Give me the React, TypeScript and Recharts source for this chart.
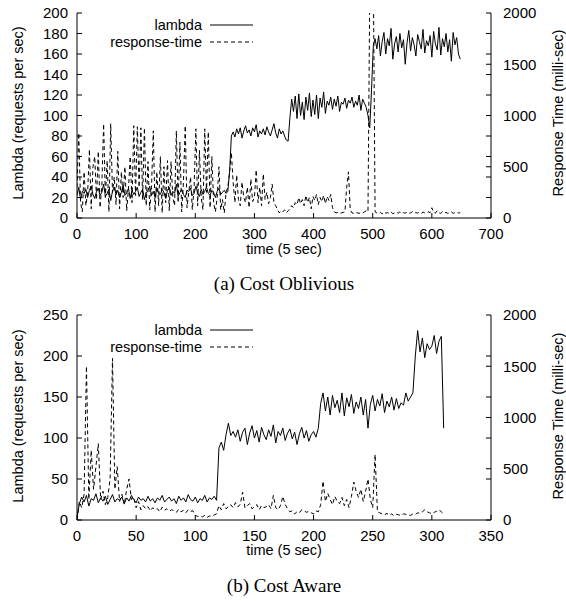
import React from "react";
import { LineChart, Line, XAxis, YAxis } from "recharts";

// sampling step (time units of 5 sec) for each panel
const TOP_STEP = 3;
const BOTTOM_STEP = 2;

// (a) Cost Oblivious -- lambda (req/sec), t = 0..648
const TOP_LAMBDA = [
  22, 30, 18, 26, 24, 28, 20, 27, 31, 23,
  19, 26, 29, 22, 25, 33, 21, 24, 28, 17,
  26, 30, 23, 27, 20, 25, 32, 22, 24, 29,
  19, 27, 23, 26, 30, 21, 25, 28, 18, 24,
  27, 31, 22, 26, 20, 29, 24, 23, 28, 25,
  19, 27, 30, 22, 26, 24, 33, 21, 25, 28,
  23, 20, 27, 26, 29, 22, 24, 31, 25, 21,
  28, 23, 26, 30, 24, 22, 27, 25, 20, 26,
  29, 23, 25, 27, 24,
  26, 45, 80, 84, 79, 87, 82, 88, 78, 85,
  90, 83, 86, 80, 88, 84, 91, 79, 85, 82,
  87, 81, 89, 84, 80, 86, 92, 83, 78, 87,
  82, 85, 80, 76, 75, 98, 116, 104, 119, 97,
  121, 100, 113, 96, 118, 105, 122, 99, 115, 101,
  120, 97, 117, 108, 123, 102, 114, 110, 118, 106,
  116, 109, 119, 104, 113, 111, 117, 107, 115, 112,
  118, 108, 114, 110, 120, 105, 116, 112, 108, 100,
  88, 125, 168, 175,
  165, 178, 158, 172, 181, 160, 175, 168, 185, 155,
  170, 177, 162, 180, 166, 174, 150, 171, 183, 163,
  176, 169, 158, 179, 172, 165, 184, 161, 173, 168,
  178, 157, 182, 170, 164, 186, 159, 175, 167, 180,
  162, 174, 153, 181, 169, 176, 160, 155,
];

// (a) response time (ms)
const TOP_RESPONSE = [
  300, 830, 150, 60, 450, 120, 250, 670, 90, 500,
  600, 180, 650, 100, 320, 920, 200, 560, 60, 920,
  250, 400, 130, 650, 90, 450, 200, 500, 70, 280,
  600, 150, 900, 220, 890, 300, 880, 180, 880, 120,
  550, 80, 300, 850, 60, 450, 120, 600, 50, 500,
  150, 560, 70, 550, 200, 120, 850, 150, 740, 60,
  350, 900, 100, 250, 400, 80, 300, 870, 120, 660,
  200, 80, 870, 250, 840, 100, 600, 150, 60, 200,
  500, 80, 180, 50, 250,
  300, 450, 640, 350, 150, 420, 180, 120, 350, 200,
  150, 300, 100, 380, 160, 200, 470, 150, 300, 120,
  430, 180, 250, 140, 200, 330, 150, 120, 80, 50,
  70, 60, 80, 50, 70, 90, 120, 100, 150, 130,
  200, 140, 180, 120, 220, 150, 200, 90, 210, 170,
  230, 130, 200, 160, 220, 140, 210, 170, 230, 100,
  60, 50, 55, 45, 50, 55, 60, 300, 450, 80,
  50, 45, 55, 50, 45, 55, 50, 60, 70, 60,
  2200, 2600, 2400, 60,
  50, 45, 55, 40, 60, 48, 52, 45, 58, 42,
  50, 55, 47, 60, 44, 52, 48, 56, 45, 50,
  62, 46, 53, 48, 55, 44, 58, 50, 47, 60,
  52, 100, 55, 48, 70, 50, 45, 62, 48, 55,
  44, 52, 60, 46, 50, 55, 48, 52,
];

// (b) Cost Aware -- lambda (req/sec), t = 0..310
const BOTTOM_LAMBDA = [
  3, 20, 28, 22, 30, 17, 26, 24, 32, 21,
  27, 23, 29, 19, 25, 31, 22, 26, 24, 28,
  20, 27, 23, 30, 25, 21, 28, 24, 26, 22,
  29, 23, 26, 21, 27, 24, 30, 22, 25, 28,
  23, 26, 20, 29, 24, 27, 22, 31, 25, 23,
  28, 21, 26, 24, 30, 22, 27, 25, 29, 24,
  88, 95, 85, 104, 118, 103, 108, 101, 110, 96,
  107, 112, 92, 106, 115, 100, 109, 95, 113, 104,
  98, 110, 102, 116, 94, 108, 103, 112, 97, 106,
  111, 99, 107, 92, 105, 113, 100, 109, 96, 104,
  108, 101, 112, 142, 155, 133, 150, 128, 152, 137,
  146, 131, 155, 127, 149, 138, 153, 130, 144, 136,
  150, 128, 147, 112, 141, 152, 133, 147, 139, 154,
  131, 145, 138, 150, 134, 148, 136, 143, 140, 155,
  145, 150, 155, 200, 231, 205, 222, 198, 215, 208,
  212, 225, 203, 218, 224, 112,
];

// (b) response time (ms)
const BOTTOM_RESPONSE = [
  0, 180, 120, 250, 1500, 200, 680, 300, 520, 745,
  200, 280, 150, 220, 400, 1576, 300, 520, 180, 250,
  150, 300, 400, 200, 220, 120, 180, 100, 140, 110,
  130, 90, 120, 100, 110, 80, 125, 95, 110, 85,
  100, 90, 75, 105, 80, 95, 70, 100, 85, 90,
  45, 35, 40, 30, 45, 25, 40, 35, 50, 60,
  140, 100, 160, 110, 130, 150, 120, 170, 130, 150,
  270, 120, 140, 160, 110, 130, 150, 100, 140, 120,
  130, 150, 110, 240, 120, 100, 140, 230, 150, 110,
  80, 90, 60, 80, 70, 100, 90, 75, 85, 70,
  60, 90, 80, 150, 380, 180, 260, 200, 150, 230,
  180, 160, 220, 140, 200, 120, 230, 370, 280, 220,
  300, 180, 280, 400, 200, 120, 640, 80, 70, 60,
  50, 65, 45, 60, 40, 55, 50, 45, 60, 55,
  50, 45, 60, 55, 70, 65, 80, 100, 80, 70,
  60, 75, 85, 100, 80, 60,
];

const TOP_X_TICKS = [0, 100, 200, 300, 400, 500, 600, 700];
const TOP_X_MIRROR = [100, 200, 300, 400, 500, 600];
const TOP_LEFT_TICKS = [0, 20, 40, 60, 80, 100, 120, 140, 160, 180, 200];
const TOP_RIGHT_TICKS = [0, 200, 400, 500, 600, 800, 1000, 1200, 1400, 1500, 1600, 1800, 2000];

const BOTTOM_X_TICKS = [0, 50, 100, 150, 200, 250, 300, 350];
const BOTTOM_X_MIRROR = [50, 100, 150, 200, 250, 300];
const BOTTOM_LEFT_TICKS = [0, 50, 100, 150, 200, 250];
const BOTTOM_RIGHT_TICKS = [0, 400, 500, 800, 1000, 1200, 1500, 1600, 2000];

const SANS = "'Liberation Sans', Arial, Helvetica, sans-serif";
const SERIF = "'Liberation Serif', 'Times New Roman', serif";
const tickStyle = { fill: "#000", fontSize: 15, fontFamily: SANS };

const topData = TOP_LAMBDA.map((v, i) => ({ t: i * TOP_STEP, lambda: v, rt: TOP_RESPONSE[i] }));
const bottomData = BOTTOM_LAMBDA.map((v, i) => ({ t: i * BOTTOM_STEP, lambda: v, rt: BOTTOM_RESPONSE[i] }));

function rightLabel(v: number) {
  return v % 500 === 0 ? String(v) : "";
}

function Panel({ data, xMax, xTicks, xMirror, leftMax, leftTicks, rightTicks }: any) {
  return (
    <LineChart width={566} height={260} data={data} margin={{ top: 13, right: 25, bottom: 12, left: 27 }}>
      <XAxis
        xAxisId="b"
        dataKey="t"
        type="number"
        domain={[0, xMax]}
        ticks={xTicks}
        interval={0}
        allowDataOverflow
        height={30}
        tickSize={-5}
        tickMargin={15}
        tick={tickStyle}
        stroke="#000"
      />
      <XAxis
        xAxisId="top"
        orientation="top"
        dataKey="t"
        type="number"
        domain={[0, xMax]}
        ticks={xMirror}
        interval={0}
        allowDataOverflow
        height={0}
        tickSize={-5}
        tickFormatter={() => ""}
        stroke="#000"
      />
      <YAxis
        yAxisId="l"
        domain={[0, leftMax]}
        ticks={leftTicks}
        interval={0}
        allowDataOverflow
        width={50}
        tickSize={-5}
        tickMargin={14}
        tick={tickStyle}
        stroke="#000"
      />
      <YAxis
        yAxisId="r"
        orientation="right"
        domain={[0, 2000]}
        ticks={rightTicks}
        interval={0}
        allowDataOverflow
        width={50}
        tickSize={-5}
        tickMargin={17}
        tick={tickStyle}
        tickFormatter={rightLabel}
        stroke="#000"
      />
      <Line
        xAxisId="b"
        yAxisId="l"
        dataKey="lambda"
        name="lambda"
        type="linear"
        stroke="#000"
        strokeWidth={1}
        dot={false}
        isAnimationActive={false}
      />
      <Line
        xAxisId="b"
        yAxisId="r"
        dataKey="rt"
        name="response-time"
        type="linear"
        stroke="#000"
        strokeWidth={1}
        strokeDasharray="4 3"
        dot={false}
        isAnimationActive={false}
      />
    </LineChart>
  );
}

function Txt({ x, y, children, size = 14.5, rotate = false, family = SANS, anchor = "middle" }: any) {
  const tx = anchor === "end" ? "-100%" : "-50%";
  return (
    <div
      style={{
        position: "absolute",
        left: x,
        top: y,
        transform: `translate(${tx}, -50%)` + (rotate ? " rotate(-90deg)" : ""),
        whiteSpace: "nowrap",
        lineHeight: 1,
        fontSize: size,
        fontFamily: family,
        color: "#000",
      }}
    >
      {children}
    </div>
  );
}

// legend: text right-aligned, then a sample line
function LegendBox({ top }: { top: number }) {
  return (
    <>
      <Txt x={202} y={top} anchor="end">lambda</Txt>
      <Txt x={202} y={top + 17} anchor="end">response-time</Txt>
      <svg style={{ position: "absolute", left: 205, top: top - 8 }} width={52} height={30}>
        <line x1={5} x2={48} y1={8} y2={8} stroke="#000" strokeWidth={1} />
        <line x1={5} x2={48} y1={25} y2={25} stroke="#000" strokeWidth={1} strokeDasharray="4 3" />
      </svg>
    </>
  );
}

export default function App() {
  return (
    <div style={{ position: "absolute", left: 0, top: 0, width: 566, height: 601, background: "#fff" }}>
      <div style={{ position: "absolute", left: 0, top: 0 }}>
        <Panel
          data={topData}
          xMax={700}
          xTicks={TOP_X_TICKS}
          xMirror={TOP_X_MIRROR}
          leftMax={200}
          leftTicks={TOP_LEFT_TICKS}
          rightTicks={TOP_RIGHT_TICKS}
        />
      </div>
      <div style={{ position: "absolute", left: 0, top: 302 }}>
        <Panel
          data={bottomData}
          xMax={350}
          xTicks={BOTTOM_X_TICKS}
          xMirror={BOTTOM_X_MIRROR}
          leftMax={250}
          leftTicks={BOTTOM_LEFT_TICKS}
          rightTicks={BOTTOM_RIGHT_TICKS}
        />
      </div>

      <LegendBox top={25} />
      <Txt x={18} y={113} rotate>Lambda (requests per sec)</Txt>
      <Txt x={558} y={113} rotate>Response Time (milli-sec)</Txt>
      <Txt x={284} y={249}>time (5 sec)</Txt>
      <Txt x={284} y={283} size={19} family={SERIF}>(a) Cost Oblivious</Txt>

      <LegendBox top={330} />
      <Txt x={18} y={416} rotate>Lambda (requests per sec)</Txt>
      <Txt x={558} y={416} rotate>Response Time (milli-sec)</Txt>
      <Txt x={284} y={550}>time (5 sec)</Txt>
      <Txt x={284} y={585} size={19} family={SERIF}>(b) Cost Aware</Txt>
    </div>
  );
}
